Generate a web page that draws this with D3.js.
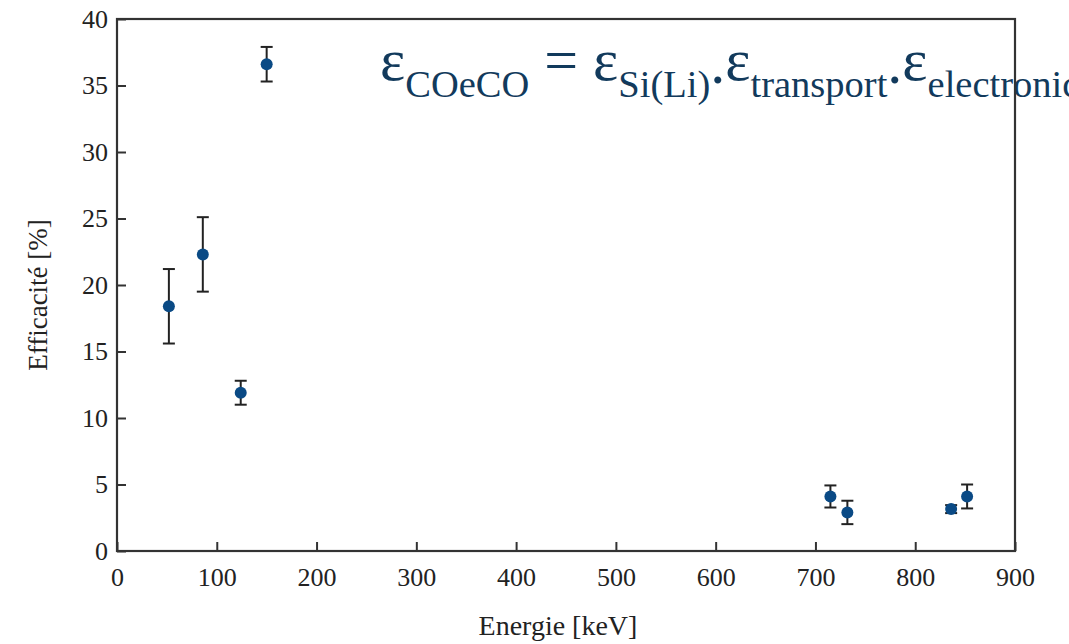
<!DOCTYPE html>
<html>
<head>
<meta charset="utf-8">
<script src="https://cdn.jsdelivr.net/npm/d3@7"></script>
<style>
  html, body { margin: 0; padding: 0; background: #fff; }
  svg { display: block; }
  .serif { font-family: "Liberation Serif", "DejaVu Serif", serif; }
</style>
</head>
<body>
<svg id="chart" width="1069" height="644"></svg>
<script>
// Measured detection efficiency versus electron energy
const energies     = [52, 86, 124, 150, 715, 732, 836, 852];     // keV
const efficiencies = [18.4, 22.3, 11.9, 36.6, 4.1, 2.9, 3.15, 4.1]; // %
const errors       = [2.8, 2.8, 0.9, 1.3, 0.83, 0.88, 0.3, 0.9];  // ± %

const xTicks = [0, 100, 200, 300, 400, 500, 600, 700, 800, 900];
const yTicks = [0, 5, 10, 15, 20, 25, 30, 35, 40];

const xTitle = "Energie [keV]";
const yTitle = "Efficacité [%]";

const svg = d3.select("#chart");
const W = 1069, H = 644;
const m = { left: 117, right: 54, top: 19, bottom: 93 };

const x = d3.scaleLinear().domain([0, 900]).range([m.left, W - m.right]);
const y = d3.scaleLinear().domain([0, 40]).range([H - m.bottom, m.top]);

const frameColor = "#333";
const textColor = "#222";
const navy = "#123a5c";

svg.append("rect").attr("width", W).attr("height", H).attr("fill", "#fff");

// Formula annotation: ε_COeCO = ε_Si(Li) . ε_transport . ε_electronic
const mainSize = 60, subSize = 38.5;
const eq = svg.append("text")
  .attr("class", "serif")
  .attr("x", 380).attr("y", 80)
  .attr("fill", navy)
  .attr("font-size", mainSize);

const parts = [
  ["ε", null], ["COeCO", "sub"], [" = ", null],
  ["ε", null], ["Si(Li)", "sub"], [".", "dot"],
  ["ε", null], ["transport", "sub"], [".", "dot"],
  ["ε", null], ["electronic", "sub"]
];
let shift = 0;
parts.forEach(([txt, kind]) => {
  const target = kind === "sub" ? 17 : kind === "dot" ? 3 : 0;
  eq.append("tspan")
    .attr("class", "serif")
    .attr("dy", target - shift)
    .attr("font-size", kind === "sub" ? subSize : mainSize)
    .text(txt);
  shift = target;
});

// Axes with inward ticks
const xAxis = d3.axisBottom(x).tickValues(xTicks).tickFormat(d3.format("d"))
  .tickSizeInner(-9).tickSizeOuter(0).tickPadding(17);
const yAxis = d3.axisLeft(y).tickValues(yTicks).tickFormat(d3.format("d"))
  .tickSizeInner(-9).tickSizeOuter(0).tickPadding(9);

const gx = svg.append("g").attr("transform", `translate(0,${y(0)})`).call(xAxis);
const gy = svg.append("g").attr("transform", `translate(${x(0)},0)`).call(yAxis);

[gx, gy].forEach(g => {
  g.attr("font-family", null);
  g.selectAll(".domain").remove();
  g.selectAll(".tick line").attr("stroke", frameColor).attr("stroke-width", 2);
  g.selectAll(".tick text")
    .attr("class", "serif")
    .attr("font-size", 26).attr("fill", textColor);
});

// Frame around the plotting area (drawn over the formula's overflow)
svg.append("rect")
  .attr("x", x(0)).attr("y", y(40))
  .attr("width", x(900) - x(0)).attr("height", y(0) - y(40))
  .attr("fill", "none").attr("stroke", frameColor).attr("stroke-width", 2.2);

// Error bars
const capW = 6;
const bars = svg.append("g").attr("stroke", "#222").attr("stroke-width", 2);
energies.forEach((e, i) => {
  const lo = y(efficiencies[i] - errors[i]);
  const hi = y(efficiencies[i] + errors[i]);
  bars.append("line").attr("x1", x(e)).attr("x2", x(e)).attr("y1", lo).attr("y2", hi);
  bars.append("line").attr("x1", x(e) - capW).attr("x2", x(e) + capW).attr("y1", lo).attr("y2", lo);
  bars.append("line").attr("x1", x(e) - capW).attr("x2", x(e) + capW).attr("y1", hi).attr("y2", hi);
});

// Data points
svg.append("g").selectAll("circle")
  .data(energies)
  .join("circle")
  .attr("cx", d => x(d))
  .attr("cy", (d, i) => y(efficiencies[i]))
  .attr("r", 6)
  .attr("fill", "#0a4a85");

// Axis titles
svg.append("text")
  .attr("class", "serif")
  .attr("x", 558).attr("y", 635)
  .attr("text-anchor", "middle")
  .attr("font-size", 28).attr("fill", textColor)
  .text(xTitle);

svg.append("text")
  .attr("class", "serif")
  .attr("transform", `translate(47,${295}) rotate(-90)`)
  .attr("text-anchor", "middle")
  .attr("font-size", 27).attr("fill", textColor)
  .text(yTitle);
</script>
</body>
</html>
